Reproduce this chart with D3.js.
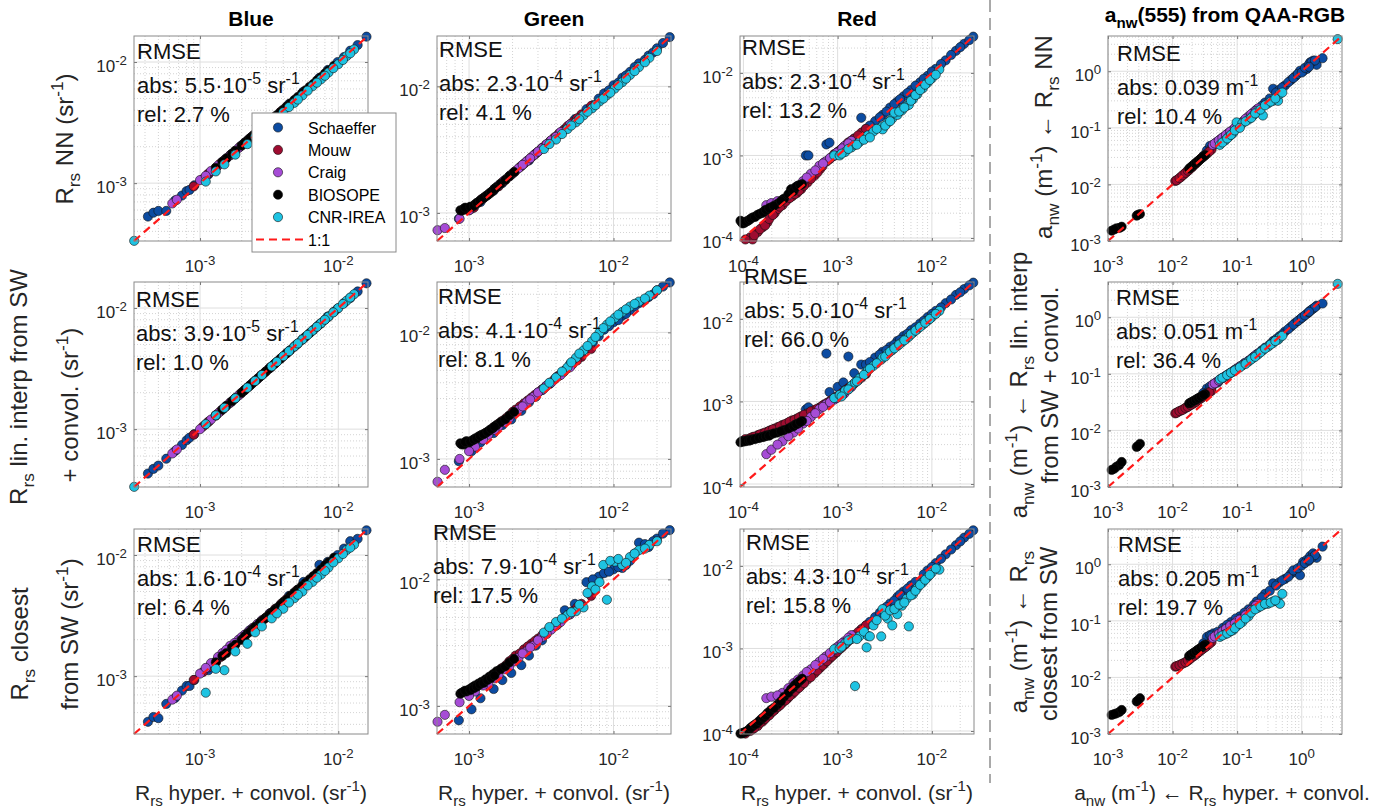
<!DOCTYPE html>
<html>
<head>
<meta charset="utf-8">
<script src="https://cdn.jsdelivr.net/npm/d3@7"></script>
<style>
  body { margin: 0; background: #fff; }
  svg text { white-space: pre; }
</style>
</head>
<body>
<div class="visualisation"></div>
<script>
//----------------------------------------------------------------------------------------------------------------------------
//DATA  (x = Rrs hyper + convol. ; NN / Lin / Close = the three methods, one value per x)
//----------------------------------------------------------------------------------------------------------------------------
var datasets = ["Schaeffer", "Mouw", "Craig", "BIOSOPE", "CNR-IREA"];
var dsColors = ["#0c4ca2", "#9e0c30", "#a64cd6", "#000000", "#1ec3e2"];

var colTitles = ["Blue", "Green", "Red", "a_{nw}(555) from QAA-RGB"];
var domains = [[3.33e-4, 1.64e-2], [6.0e-4, 2.5e-2], [9.2e-5, 2.8e-2], [1e-3, 4.2]];

// BLUE band
var blueX = {
  "Schaeffer": [4.2e-4, 4.6e-4, 5.0e-4, 5.7e-4, 6.6e-4, 7.4e-4, 8.0e-4, 8.4e-4, 9.1e-4, 1.15e-3, 1.3e-3, 1.7e-3, 2.3e-3, 3.2e-3, 4.4e-3, 5.6e-3, 7.3e-3, 8.4e-3, 9.9e-3, 1.1e-2, 1.22e-2, 1.38e-2, 1.6e-2],
  "Mouw":      [9.0e-4, 1.05e-3, 1.3e-3, 1.5e-3, 1.8e-3, 2.1e-3, 2.5e-3, 3.0e-3, 3.5e-3, 4.2e-3, 5.0e-3,
                1.15e-3, 1.4e-3, 1.65e-3, 1.95e-3, 2.3e-3, 2.75e-3, 3.25e-3, 3.85e-3],
  "Craig":     [6.3e-4, 6.8e-4, 1.0e-3, 1.2e-3, 1.45e-3, 1.65e-3, 1.9e-3, 2.1e-3, 2.4e-3, 2.8e-3, 3.2e-3,
                1.1e-3, 1.35e-3, 1.55e-3, 1.78e-3, 2.0e-3, 2.25e-3, 2.6e-3],
  "BIOSOPE":   [1.3e-3, 1.55e-3, 1.8e-3, 2.0e-3, 2.2e-3, 2.4e-3, 2.6e-3, 2.8e-3, 3.0e-3, 3.3e-3, 3.6e-3, 4.0e-3, 4.5e-3, 5.1e-3, 5.8e-3, 6.6e-3, 7.5e-3, 8.5e-3, 9.3e-3,
                1.45e-3, 1.7e-3, 2.1e-3, 2.3e-3, 2.5e-3, 2.7e-3, 2.9e-3, 3.15e-3, 3.45e-3, 3.8e-3, 4.25e-3, 4.8e-3, 5.45e-3, 6.2e-3, 7.0e-3, 8.0e-3],
  "CNR-IREA":  [3.34e-4, 1.1e-3, 1.5e-3, 2.2e-3, 2.8e-3, 3.3e-3, 4.0e-3, 4.8e-3, 5.5e-3, 6.5e-3, 7.5e-3, 8.5e-3, 1.0e-2, 1.15e-2, 1.3e-2,
                1.3e-3, 1.8e-3, 2.5e-3, 3.6e-3, 4.4e-3, 5.1e-3, 6.0e-3, 7.0e-3, 8.0e-3, 9.2e-3, 1.08e-2, 1.22e-2]
};
var blueNN = {
  "Schaeffer": [5.3e-4, 5.7e-4, 5.9e-4, 5.9e-4, 7.2e-4, 7.9e-4, 8.6e-4, 8.8e-4, 9.6e-4, 1.18e-3, 1.33e-3, 1.74e-3, 2.35e-3, 3.25e-3, 4.5e-3, 5.7e-3, 7.4e-3, 8.6e-3, 1.0e-2, 1.1e-2, 1.24e-2, 1.38e-2, 1.62e-2],
  "Mouw":      [9.4e-4, 1.08e-3, 1.34e-3, 1.55e-3, 1.85e-3, 2.15e-3, 2.55e-3, 3.05e-3, 3.55e-3, 4.25e-3, 5.0e-3,
                1.2e-3, 1.45e-3, 1.7e-3, 2.0e-3, 2.35e-3, 2.8e-3, 3.3e-3, 3.9e-3],
  "Craig":     [6.8e-4, 7.3e-4, 1.06e-3, 1.26e-3, 1.5e-3, 1.7e-3, 1.95e-3, 2.15e-3, 2.45e-3, 2.85e-3, 3.25e-3,
                1.15e-3, 1.4e-3, 1.6e-3, 1.82e-3, 2.05e-3, 2.3e-3, 2.65e-3],
  "BIOSOPE":   [1.34e-3, 1.6e-3, 1.85e-3, 2.05e-3, 2.25e-3, 2.45e-3, 2.65e-3, 2.85e-3, 3.05e-3, 3.35e-3, 3.65e-3, 4.05e-3, 4.55e-3, 5.15e-3, 5.85e-3, 6.6e-3, 7.5e-3, 8.5e-3, 9.3e-3,
                1.5e-3, 1.75e-3, 2.15e-3, 2.35e-3, 2.55e-3, 2.75e-3, 2.95e-3, 3.2e-3, 3.5e-3, 3.85e-3, 4.3e-3, 4.85e-3, 5.5e-3, 6.25e-3, 7.05e-3, 8.05e-3],
  "CNR-IREA":  [3.34e-4, 1.03e-3, 1.43e-3, 2.1e-3, 2.7e-3, 3.2e-3, 3.85e-3, 4.6e-3, 5.3e-3, 6.3e-3, 7.2e-3, 8.2e-3, 9.6e-3, 1.12e-2, 1.27e-2,
                1.25e-3, 1.72e-3, 2.42e-3, 3.5e-3, 4.25e-3, 4.9e-3, 5.8e-3, 6.75e-3, 7.7e-3, 8.9e-3, 1.04e-2, 1.18e-2]
};
var blueLin = {
  "Schaeffer": [4.3e-4, 4.7e-4, 5.0e-4, 5.7e-4, 6.6e-4, 7.4e-4, 8.1e-4, 8.5e-4, 9.1e-4, 1.15e-3, 1.3e-3, 1.7e-3, 2.3e-3, 3.2e-3, 4.4e-3, 5.6e-3, 7.3e-3, 8.5e-3, 9.9e-3, 1.1e-2, 1.21e-2, 1.37e-2, 1.6e-2],
  "Mouw":      [9.0e-4, 1.05e-3, 1.3e-3, 1.5e-3, 1.8e-3, 2.1e-3, 2.5e-3, 3.0e-3, 3.5e-3, 4.2e-3, 5.0e-3,
                1.15e-3, 1.4e-3, 1.65e-3, 1.95e-3, 2.3e-3, 2.75e-3, 3.25e-3, 3.85e-3],
  "Craig":     [6.3e-4, 6.8e-4, 1.0e-3, 1.2e-3, 1.45e-3, 1.65e-3, 1.9e-3, 2.1e-3, 2.4e-3, 2.8e-3, 3.2e-3,
                1.1e-3, 1.35e-3, 1.55e-3, 1.78e-3, 2.0e-3, 2.25e-3, 2.6e-3],
  "BIOSOPE":   [1.3e-3, 1.56e-3, 1.8e-3, 2.0e-3, 2.2e-3, 2.4e-3, 2.6e-3, 2.8e-3, 3.0e-3, 3.3e-3, 3.6e-3, 4.0e-3, 4.5e-3, 5.1e-3, 5.8e-3, 6.6e-3, 7.5e-3, 8.5e-3, 9.3e-3,
                1.45e-3, 1.7e-3, 2.1e-3, 2.3e-3, 2.5e-3, 2.7e-3, 2.9e-3, 3.15e-3, 3.45e-3, 3.8e-3, 4.25e-3, 4.8e-3, 5.45e-3, 6.2e-3, 7.0e-3, 8.0e-3],
  "CNR-IREA":  [3.34e-4, 1.1e-3, 1.5e-3, 2.2e-3, 2.8e-3, 3.3e-3, 4.0e-3, 4.8e-3, 5.5e-3, 6.5e-3, 7.5e-3, 8.5e-3, 1.0e-2, 1.15e-2, 1.3e-2,
                1.3e-3, 1.8e-3, 2.5e-3, 3.6e-3, 4.4e-3, 5.1e-3, 6.0e-3, 7.0e-3, 8.0e-3, 9.2e-3, 1.08e-2, 1.22e-2]
};
var blueClose = {
  "Schaeffer": [4.2e-4, 4.6e-4, 4.5e-4, 5.9e-4, 6.6e-4, 7.6e-4, 8.3e-4, 8.3e-4, 9.3e-4, 1.12e-3, 1.32e-3, 1.75e-3, 2.4e-3, 3.3e-3, 4.6e-3, 6.0e-3, 8.3e-3, 8.8e-3, 1.0e-2, 1.13e-2, 1.3e-2, 1.36e-2, 1.6e-2],
  "Mouw":      [9.3e-4, 1.08e-3, 1.3e-3, 1.55e-3, 1.85e-3, 2.15e-3, 2.55e-3, 3.05e-3, 3.6e-3, 4.3e-3, 5.1e-3,
                1.18e-3, 1.43e-3, 1.7e-3, 2.0e-3, 2.35e-3, 2.8e-3, 3.3e-3, 3.95e-3],
  "Craig":     [6.4e-4, 6.9e-4, 1.05e-3, 1.28e-3, 1.55e-3, 1.78e-3, 2.0e-3, 2.2e-3, 2.5e-3, 2.9e-3, 3.3e-3,
                1.17e-3, 1.44e-3, 1.65e-3, 1.88e-3, 2.1e-3, 2.35e-3, 2.7e-3],
  "BIOSOPE":   [1.3e-3, 1.55e-3, 1.82e-3, 2.0e-3, 2.25e-3, 2.45e-3, 2.6e-3, 2.85e-3, 3.05e-3, 3.35e-3, 3.65e-3, 4.1e-3, 4.6e-3, 5.2e-3, 5.9e-3, 6.7e-3, 7.6e-3, 8.7e-3, 9.5e-3,
                1.47e-3, 1.72e-3, 2.12e-3, 2.33e-3, 2.55e-3, 2.75e-3, 2.95e-3, 3.2e-3, 3.5e-3, 3.85e-3, 4.3e-3, 4.9e-3, 5.55e-3, 6.3e-3, 7.1e-3, 8.2e-3],
  "CNR-IREA":  [2.6e-4, 7.3e-4, 1.12e-3, 1.85e-3, 2.57e-3, 3.0e-3, 3.6e-3, 4.4e-3, 5.0e-3, 6.0e-3, 6.9e-3, 7.9e-3, 9.4e-3, 1.1e-2, 1.22e-2,
                1.15e-3, 1.6e-3, 2.3e-3, 3.3e-3, 4.05e-3, 4.7e-3, 5.6e-3, 6.5e-3, 7.4e-3, 8.7e-3, 1.02e-2, 1.15e-2]
};

// GREEN band
var greenX = {
  "Schaeffer": [8.5e-4, 1.04e-3, 1.48e-3, 1.96e-3, 2.3e-3, 2.9e-3, 3.6e-3, 4.6e-3, 5.4e-3, 6.5e-3, 7.9e-3, 8.6e-3, 1.0e-2, 1.15e-2, 1.3e-2, 1.5e-2, 1.75e-2, 2.0e-2, 2.45e-2,
                1.2e-3, 1.7e-3, 2.6e-3, 3.2e-3, 4.1e-3, 5.0e-3, 6.0e-3, 7.2e-3, 9.3e-3, 1.08e-2, 1.22e-2, 1.4e-2, 1.65e-2, 1.88e-2, 2.2e-2],
  "Mouw":      [1.0e-3, 1.15e-3, 1.3e-3, 1.5e-3, 1.7e-3, 1.9e-3, 2.1e-3, 2.4e-3, 2.7e-3, 3.0e-3, 3.4e-3, 3.9e-3, 4.5e-3, 5.2e-3, 6.0e-3, 7.0e-3,
                1.08e-3, 1.22e-3, 1.4e-3, 1.6e-3, 1.8e-3, 2.0e-3, 2.25e-3, 2.55e-3, 2.85e-3, 3.2e-3, 3.65e-3, 4.2e-3, 4.8e-3, 5.6e-3],
  "Craig":     [6.05e-4, 6.8e-4, 8.6e-4, 1.1e-3, 1.36e-3, 1.6e-3, 1.9e-3, 2.2e-3, 2.5e-3, 2.8e-3, 3.2e-3, 3.7e-3, 4.3e-3, 5.0e-3,
                1.0e-3, 1.25e-3, 1.5e-3, 1.75e-3, 2.05e-3, 2.35e-3, 2.65e-3, 3.0e-3, 3.45e-3, 4.0e-3],
  "BIOSOPE":   [8.7e-4, 9.2e-4, 9.6e-4, 1.0e-3, 1.05e-3, 1.1e-3, 1.16e-3, 1.22e-3, 1.3e-3, 1.38e-3, 1.46e-3, 1.55e-3, 1.65e-3, 1.78e-3, 1.9e-3, 2.05e-3,
                8.9e-4, 9.4e-4, 1.02e-3, 1.08e-3, 1.13e-3, 1.19e-3, 1.26e-3, 1.34e-3, 1.42e-3, 1.5e-3],
  "CNR-IREA":  [3.3e-3, 4.0e-3, 4.8e-3, 5.5e-3, 6.2e-3, 7.1e-3, 8.0e-3, 9.0e-3, 1.02e-2, 1.15e-2, 1.3e-2, 1.5e-2, 1.77e-2, 2.0e-2,
                3.6e-3, 4.4e-3, 5.1e-3, 5.8e-3, 6.6e-3, 7.5e-3, 8.5e-3, 9.5e-3, 1.08e-2, 1.22e-2, 1.4e-2, 1.65e-2]
};
var greenNN = {
  "Schaeffer": [9.0e-4, 1.08e-3, 1.5e-3, 2.0e-3, 2.35e-3, 2.95e-3, 3.6e-3, 4.6e-3, 5.5e-3, 6.6e-3, 8.0e-3, 8.8e-3, 1.02e-2, 1.17e-2, 1.3e-2, 1.52e-2, 1.75e-2, 2.0e-2, 2.45e-2,
                1.22e-3, 1.72e-3, 2.6e-3, 3.25e-3, 4.1e-3, 5.0e-3, 5.9e-3, 7.1e-3, 9.3e-3, 1.07e-2, 1.22e-2, 1.42e-2, 1.62e-2, 1.85e-2, 2.2e-2],
  "Mouw":      [1.05e-3, 1.2e-3, 1.35e-3, 1.55e-3, 1.75e-3, 1.95e-3, 2.15e-3, 2.45e-3, 2.75e-3, 3.05e-3, 3.45e-3, 3.95e-3, 4.5e-3, 5.2e-3, 6.0e-3, 7.0e-3,
                1.1e-3, 1.28e-3, 1.44e-3, 1.62e-3, 1.84e-3, 2.05e-3, 2.3e-3, 2.6e-3, 2.9e-3, 3.25e-3, 3.7e-3, 4.25e-3, 4.85e-3, 5.6e-3],
  "Craig":     [7.3e-4, 7.6e-4, 9.0e-4, 1.15e-3, 1.4e-3, 1.65e-3, 1.95e-3, 2.25e-3, 2.55e-3, 2.85e-3, 3.25e-3, 3.75e-3, 4.35e-3, 5.0e-3,
                1.05e-3, 1.3e-3, 1.55e-3, 1.8e-3, 2.1e-3, 2.4e-3, 2.7e-3, 3.05e-3, 3.5e-3, 4.0e-3],
  "BIOSOPE":   [1.05e-3, 1.08e-3, 1.06e-3, 1.1e-3, 1.12e-3, 1.17e-3, 1.22e-3, 1.28e-3, 1.35e-3, 1.42e-3, 1.5e-3, 1.6e-3, 1.7e-3, 1.82e-3, 1.95e-3, 2.1e-3,
                1.04e-3, 1.1e-3, 1.12e-3, 1.14e-3, 1.2e-3, 1.25e-3, 1.31e-3, 1.38e-3, 1.46e-3, 1.55e-3],
  "CNR-IREA":  [3.2e-3, 3.8e-3, 4.6e-3, 5.2e-3, 5.9e-3, 6.7e-3, 7.6e-3, 8.5e-3, 9.6e-3, 1.08e-2, 1.23e-2, 1.42e-2, 1.68e-2, 1.9e-2,
                3.5e-3, 4.2e-3, 4.9e-3, 5.5e-3, 6.3e-3, 7.1e-3, 8.0e-3, 8.9e-3, 1.02e-2, 1.15e-2, 1.32e-2, 1.55e-2]
};
var greenLin = {
  "Schaeffer": [9.6e-4, 1.15e-3, 1.6e-3, 2.05e-3, 2.4e-3, 3.1e-3, 3.9e-3, 5.0e-3, 6.0e-3, 7.4e-3, 9.3e-3, 1.05e-2, 1.2e-2, 1.35e-2, 1.5e-2, 1.7e-2, 1.9e-2, 2.15e-2, 2.48e-2,
                1.35e-3, 1.85e-3, 2.8e-3, 3.5e-3, 4.5e-3, 5.6e-3, 6.8e-3, 8.3e-3, 1.12e-2, 1.25e-2, 1.4e-2, 1.6e-2, 1.8e-2, 2.0e-2, 2.3e-2],
  "Mouw":      [1.35e-3, 1.45e-3, 1.6e-3, 1.8e-3, 2.0e-3, 2.2e-3, 2.45e-3, 2.75e-3, 3.05e-3, 3.35e-3, 3.75e-3, 4.25e-3, 4.85e-3, 5.6e-3, 6.4e-3, 7.4e-3,
                1.4e-3, 1.5e-3, 1.68e-3, 1.9e-3, 2.1e-3, 2.35e-3, 2.6e-3, 2.9e-3, 3.2e-3, 3.55e-3, 4.0e-3, 4.55e-3, 5.2e-3, 6.0e-3],
  "Craig":     [6.6e-4, 8.2e-4, 1.0e-3, 1.25e-3, 1.55e-3, 1.8e-3, 2.1e-3, 2.45e-3, 2.8e-3, 3.1e-3, 3.5e-3, 4.0e-3, 4.6e-3, 5.3e-3,
                1.15e-3, 1.42e-3, 1.7e-3, 1.95e-3, 2.3e-3, 2.6e-3, 2.95e-3, 3.35e-3, 3.8e-3, 4.35e-3],
  "BIOSOPE":   [1.33e-3, 1.3e-3, 1.38e-3, 1.35e-3, 1.4e-3, 1.45e-3, 1.5e-3, 1.55e-3, 1.6e-3, 1.68e-3, 1.75e-3, 1.85e-3, 1.95e-3, 2.05e-3, 2.2e-3, 2.35e-3,
                1.3e-3, 1.36e-3, 1.37e-3, 1.42e-3, 1.46e-3, 1.52e-3, 1.57e-3, 1.64e-3, 1.72e-3, 1.8e-3],
  "CNR-IREA":  [3.6e-3, 4.4e-3, 5.3e-3, 6.3e-3, 7.2e-3, 8.5e-3, 1.0e-2, 1.15e-2, 1.3e-2, 1.45e-2, 1.6e-2, 1.75e-2, 1.95e-2, 2.15e-2,
                4.0e-3, 4.9e-3, 5.8e-3, 6.8e-3, 7.8e-3, 9.2e-3, 1.08e-2, 1.22e-2, 1.38e-2, 1.52e-2, 1.68e-2, 1.85e-2]
};
var greenClose = {
  "Schaeffer": [7.7e-4, 9.4e-4, 1.36e-3, 1.82e-3, 2.1e-3, 3.0e-3, 4.1e-3, 5.7e-3, 6.4e-3, 9.5e-3, 1.05e-2, 1.12e-2, 1.2e-2, 1.23e-2, 1.4e-2, 1.95e-2, 1.8e-2, 2.1e-2, 2.45e-2,
                1.15e-3, 1.6e-3, 2.5e-3, 3.3e-3, 4.4e-3, 5.3e-3, 6.2e-3, 1.0e-2, 1.15e-2, 1.25e-2, 1.3e-2, 1.6e-2, 1.9e-2, 2.0e-2, 2.3e-2],
  "Mouw":      [1.3e-3, 1.45e-3, 1.6e-3, 1.8e-3, 2.0e-3, 2.25e-3, 2.5e-3, 2.8e-3, 3.1e-3, 3.4e-3, 3.8e-3, 4.3e-3, 4.9e-3, 5.6e-3, 6.4e-3, 7.4e-3,
                1.35e-3, 1.5e-3, 1.7e-3, 1.9e-3, 2.1e-3, 2.35e-3, 2.6e-3, 2.95e-3, 3.25e-3, 3.6e-3, 4.05e-3, 4.6e-3, 5.2e-3, 6.0e-3],
  "Craig":     [7.5e-4, 8.5e-4, 1.07e-3, 1.3e-3, 1.46e-3, 1.75e-3, 2.05e-3, 2.4e-3, 2.7e-3, 3.0e-3, 3.5e-3, 4.0e-3, 4.6e-3, 5.3e-3,
                1.2e-3, 1.45e-3, 1.65e-3, 1.95e-3, 2.25e-3, 2.6e-3, 2.9e-3, 3.3e-3, 3.7e-3, 4.3e-3],
  "BIOSOPE":   [1.25e-3, 1.3e-3, 1.3e-3, 1.35e-3, 1.4e-3, 1.45e-3, 1.5e-3, 1.55e-3, 1.62e-3, 1.7e-3, 1.78e-3, 1.88e-3, 1.95e-3, 2.05e-3, 2.2e-3, 2.35e-3,
                1.27e-3, 1.32e-3, 1.33e-3, 1.38e-3, 1.42e-3, 1.48e-3, 1.52e-3, 1.6e-3, 1.66e-3, 1.74e-3],
  "CNR-IREA":  [3.8e-3, 4.6e-3, 5.2e-3, 5.6e-3, 6.0e-3, 8.8e-3, 9.5e-3, 6.9e-3, 1.38e-2, 1.3e-2, 1.5e-2, 1.7e-2, 1.87e-2, 2.0e-2,
                4.2e-3, 4.9e-3, 5.5e-3, 6.3e-3, 7.8e-3, 8.3e-3, 1.3e-2, 1.4e-2, 1.45e-2, 1.35e-2, 1.6e-2, 1.75e-2]
};

// RED band
var redX = {
  "Schaeffer": [4.6e-4, 4.9e-4, 7.6e-4, 8.2e-4, 1.0e-3, 1.3e-3, 1.5e-3, 1.78e-3, 2.0e-3, 2.5e-3, 3.0e-3, 3.6e-3, 4.3e-3, 5.0e-3, 6.0e-3, 7.5e-3, 9.0e-3, 1.1e-2, 1.4e-2, 1.8e-2, 2.2e-2, 2.75e-2,
                1.15e-3, 2.2e-3, 2.8e-3, 3.3e-3, 4.0e-3, 4.6e-3, 5.5e-3, 6.7e-3, 8.2e-3, 1.0e-2, 1.25e-2, 1.6e-2, 2.0e-2, 2.5e-2],
  "Mouw":      [1.18e-4, 1.25e-4, 1.42e-4, 1.6e-4, 1.8e-4, 1.96e-4, 2.15e-4, 2.32e-4, 2.6e-4, 2.96e-4, 3.3e-4, 3.7e-4, 4.1e-4, 4.8e-4, 5.7e-4, 6.5e-4, 7.2e-4, 8.2e-4, 9.2e-4, 1.05e-3, 1.15e-3, 1.29e-3, 1.5e-3, 1.8e-3,
                1.05e-4, 1.3e-4, 1.5e-4, 1.7e-4, 1.88e-4, 2.05e-4, 2.45e-4, 2.8e-4, 3.1e-4, 3.5e-4, 3.9e-4, 4.4e-4, 5.2e-4, 6.1e-4, 6.9e-4, 7.7e-4, 8.7e-4, 9.8e-4, 1.1e-3, 1.22e-3, 1.38e-3, 1.65e-3, 2.0e-3],
  "Craig":     [1.75e-4, 1.98e-4, 2.6e-4, 3.4e-4, 4.3e-4, 5.2e-4, 6.4e-4, 7.5e-4, 9.2e-4, 1.05e-3, 1.18e-3, 1.4e-3,
                2.3e-4, 3.0e-4, 3.8e-4, 4.7e-4, 5.8e-4, 7.0e-4, 8.3e-4, 9.8e-4, 1.12e-3, 1.3e-3],
  "BIOSOPE":   [9.3e-5, 9.6e-5, 1.02e-4, 1.1e-4, 1.26e-4, 1.4e-4, 1.55e-4, 1.67e-4, 1.8e-4, 1.96e-4, 2.3e-4, 2.7e-4, 3.2e-4, 3.5e-4, 3.8e-4, 4.2e-4,
                9.8e-5, 1.06e-4, 1.15e-4, 1.2e-4, 1.33e-4, 1.47e-4, 1.62e-4, 1.73e-4, 1.88e-4, 2.1e-4, 2.5e-4, 3.0e-4, 3.4e-4, 3.65e-4, 4.0e-4],
  "CNR-IREA":  [9.2e-4, 1.05e-3, 1.2e-3, 1.4e-3, 1.53e-3, 1.7e-3, 2.03e-3, 2.1e-3, 2.4e-3, 2.9e-3, 3.0e-3, 3.4e-3, 3.8e-3, 4.3e-3, 4.8e-3, 5.4e-3, 5.7e-3, 6.3e-3, 7.0e-3, 8.0e-3, 9.0e-3, 1.0e-2, 1.2e-2,
                1.1e-3, 1.3e-3, 1.6e-3, 1.9e-3, 2.2e-3, 2.6e-3, 3.2e-3, 3.6e-3, 4.0e-3, 4.5e-3, 5.1e-3, 6.0e-3, 6.7e-3, 7.5e-3, 8.5e-3, 9.5e-3, 1.1e-2]
};
var redNN = {
  "Schaeffer": [1.0e-3, 1.0e-3, 1.36e-3, 1.43e-3, 1.1e-3, 1.4e-3, 1.6e-3, 2.86e-3, 2.1e-3, 2.6e-3, 3.1e-3, 3.8e-3, 4.5e-3, 5.2e-3, 6.2e-3, 7.7e-3, 9.2e-3, 1.12e-2, 1.42e-2, 1.85e-2, 2.25e-2, 2.75e-2,
                1.2e-3, 2.3e-3, 2.9e-3, 3.4e-3, 4.2e-3, 4.8e-3, 5.7e-3, 7.0e-3, 8.5e-3, 1.04e-2, 1.28e-2, 1.65e-2, 2.05e-2, 2.5e-2],
  "Mouw":      [1.02e-4, 9.6e-5, 1.18e-4, 1.35e-4, 1.55e-4, 1.86e-4, 2.0e-4, 2.24e-4, 2.5e-4, 2.96e-4, 3.2e-4, 3.5e-4, 3.9e-4, 4.7e-4, 5.7e-4, 6.8e-4, 8.2e-4, 9.0e-4, 1.04e-3, 1.15e-3, 1.25e-3, 1.43e-3, 1.6e-3, 1.9e-3,
                9.6e-5, 1.08e-4, 1.28e-4, 1.42e-4, 1.7e-4, 1.9e-4, 2.4e-4, 2.75e-4, 3.05e-4, 3.4e-4, 3.75e-4, 4.3e-4, 5.2e-4, 6.2e-4, 7.4e-4, 8.5e-4, 9.6e-4, 1.08e-3, 1.2e-3, 1.33e-3, 1.5e-3, 1.75e-3, 2.1e-3],
  "Craig":     [2.5e-4, 2.65e-4, 2.9e-4, 3.7e-4, 4.9e-4, 6.0e-4, 7.5e-4, 8.5e-4, 9.9e-4, 1.12e-3, 1.3e-3, 1.5e-3,
                2.8e-4, 3.3e-4, 4.3e-4, 5.4e-4, 6.6e-4, 8.0e-4, 9.3e-4, 1.08e-3, 1.22e-3, 1.4e-3],
  "BIOSOPE":   [1.62e-4, 1.55e-4, 1.52e-4, 1.6e-4, 1.78e-4, 1.9e-4, 2.0e-4, 2.14e-4, 2.2e-4, 2.35e-4, 2.6e-4, 3.0e-4, 3.9e-4, 4.0e-4, 4.3e-4, 4.5e-4,
                1.5e-4, 1.58e-4, 1.65e-4, 1.72e-4, 1.8e-4, 1.95e-4, 2.05e-4, 2.2e-4, 2.3e-4, 2.45e-4, 2.8e-4, 3.4e-4, 3.7e-4, 4.2e-4, 4.4e-4],
  "CNR-IREA":  [1.0e-3, 1.0e-3, 1.1e-3, 1.25e-3, 1.35e-3, 1.45e-3, 1.7e-3, 1.75e-3, 1.95e-3, 2.2e-3, 2.07e-3, 2.5e-3, 2.8e-3, 3.1e-3, 3.5e-3, 4.0e-3, 4.1e-3, 4.8e-3, 5.5e-3, 6.5e-3, 7.6e-3, 8.6e-3, 1.1e-2,
                1.05e-3, 1.2e-3, 1.35e-3, 1.55e-3, 1.65e-3, 2.1e-3, 2.3e-3, 2.6e-3, 3.3e-3, 3.4e-3, 3.8e-3, 4.6e-3, 5.4e-3, 6.2e-3, 7.2e-3, 8.2e-3, 9.5e-3]
};
var redLin = {
  "Schaeffer": [8.0e-4, 8.5e-4, 3.8e-3, 1.3e-3, 1.5e-3, 3.5e-3, 2.2e-3, 2.8e-3, 2.8e-3, 3.4e-3, 4.0e-3, 4.6e-3, 5.4e-3, 6.2e-3, 7.3e-3, 8.8e-3, 1.05e-2, 1.25e-2, 1.55e-2, 1.95e-2, 2.3e-2, 2.75e-2,
                1.7e-3, 3.0e-3, 3.7e-3, 4.2e-3, 4.9e-3, 5.6e-3, 6.6e-3, 7.9e-3, 9.5e-3, 1.15e-2, 1.38e-2, 1.72e-2, 2.1e-2, 2.55e-2],
  "Mouw":      [3.6e-4, 3.7e-4, 3.9e-4, 4.1e-4, 4.3e-4, 4.5e-4, 4.7e-4, 4.9e-4, 5.2e-4, 5.5e-4, 5.9e-4, 6.2e-4, 6.6e-4, 7.2e-4, 7.9e-4, 8.5e-4, 9.2e-4, 1.0e-3, 1.1e-3, 1.2e-3, 1.3e-3, 1.45e-3, 1.65e-3, 1.95e-3,
                3.5e-4, 3.75e-4, 4.0e-4, 4.2e-4, 4.4e-4, 4.6e-4, 5.0e-4, 5.35e-4, 5.7e-4, 6.0e-4, 6.4e-4, 6.9e-4, 7.6e-4, 8.2e-4, 8.9e-4, 9.6e-4, 1.05e-3, 1.15e-3, 1.25e-3, 1.38e-3, 1.52e-3, 1.8e-3, 2.15e-3],
  "Craig":     [2.3e-4, 2.6e-4, 3.3e-4, 4.2e-4, 5.4e-4, 6.5e-4, 8.1e-4, 9.2e-4, 1.05e-3, 1.15e-3, 1.25e-3, 1.5e-3,
                3.0e-4, 3.8e-4, 4.7e-4, 5.8e-4, 7.2e-4, 8.6e-4, 9.8e-4, 1.1e-3, 1.2e-3, 1.4e-3],
  "BIOSOPE":   [3.2e-4, 3.3e-4, 3.3e-4, 3.4e-4, 3.5e-4, 3.6e-4, 3.7e-4, 3.8e-4, 3.9e-4, 4.0e-4, 4.2e-4, 4.5e-4, 4.9e-4, 5.2e-4, 5.4e-4, 5.8e-4,
                3.25e-4, 3.3e-4, 3.35e-4, 3.4e-4, 3.5e-4, 3.6e-4, 3.7e-4, 3.8e-4, 3.85e-4, 4.1e-4, 4.35e-4, 4.7e-4, 5.0e-4, 5.3e-4, 5.6e-4],
  "CNR-IREA":  [1.1e-3, 1.2e-3, 1.35e-3, 1.55e-3, 1.7e-3, 1.9e-3, 2.3e-3, 2.4e-3, 2.7e-3, 3.2e-3, 3.4e-3, 3.8e-3, 4.2e-3, 4.7e-3, 5.2e-3, 5.8e-3, 6.1e-3, 6.8e-3, 7.5e-3, 8.5e-3, 9.5e-3, 1.05e-2, 1.25e-2,
                1.15e-3, 1.4e-3, 1.75e-3, 2.1e-3, 2.5e-3, 2.9e-3, 3.5e-3, 4.0e-3, 4.4e-3, 4.9e-3, 5.5e-3, 6.5e-3, 7.2e-3, 8.0e-3, 9.0e-3, 1.0e-2, 1.15e-2]
};
var redClose = {
  "Schaeffer": [4.4e-4, 4.8e-4, 7.0e-4, 7.8e-4, 9.5e-4, 1.25e-3, 1.45e-3, 1.7e-3, 1.9e-3, 2.4e-3, 2.9e-3, 3.5e-3, 4.2e-3, 4.9e-3, 5.8e-3, 6.3e-3, 8.8e-3, 1.08e-2, 1.38e-2, 1.78e-2, 2.2e-2, 2.7e-2,
                1.1e-3, 2.1e-3, 2.7e-3, 3.2e-3, 3.8e-3, 4.5e-3, 5.3e-3, 6.4e-3, 7.9e-3, 9.7e-3, 1.22e-2, 1.58e-2, 1.98e-2, 2.45e-2],
  "Mouw":      [1.0e-4, 1.05e-4, 1.15e-4, 1.3e-4, 1.5e-4, 1.65e-4, 1.8e-4, 1.95e-4, 2.2e-4, 2.5e-4, 2.8e-4, 3.2e-4, 3.55e-4, 4.2e-4, 5.0e-4, 5.8e-4, 6.5e-4, 7.5e-4, 8.5e-4, 9.8e-4, 1.08e-3, 1.22e-3, 1.42e-3, 1.72e-3,
                9.3e-5, 1.08e-4, 1.25e-4, 1.4e-4, 1.55e-4, 1.72e-4, 2.05e-4, 2.35e-4, 2.65e-4, 3.0e-4, 3.35e-4, 3.8e-4, 4.5e-4, 5.4e-4, 6.2e-4, 7.0e-4, 8.0e-4, 9.0e-4, 1.02e-3, 1.14e-3, 1.3e-3, 1.58e-3, 1.9e-3],
  "Craig":     [2.5e-4, 2.6e-4, 2.9e-4, 3.8e-4, 4.7e-4, 5.6e-4, 6.9e-4, 8.0e-4, 9.6e-4, 1.1e-3, 1.22e-3, 1.45e-3,
                2.7e-4, 3.3e-4, 4.2e-4, 5.2e-4, 6.3e-4, 7.5e-4, 8.8e-4, 1.03e-3, 1.16e-3, 1.35e-3],
  "BIOSOPE":   [9.3e-5, 9.4e-5, 9.6e-5, 1.0e-4, 1.15e-4, 1.25e-4, 1.4e-4, 1.5e-4, 1.65e-4, 1.8e-4, 2.1e-4, 2.6e-4, 3.2e-4, 3.6e-4, 3.9e-4, 4.3e-4,
                9.4e-5, 9.8e-5, 1.05e-4, 1.1e-4, 1.2e-4, 1.32e-4, 1.45e-4, 1.55e-4, 1.7e-4, 1.9e-4, 2.3e-4, 2.9e-4, 3.4e-4, 3.7e-4, 4.1e-4],
  "CNR-IREA":  [9.8e-4, 1.0e-3, 1.15e-3, 1.3e-3, 3.5e-4, 1.4e-3, 1.03e-3, 1.42e-3, 1.9e-3, 1.4e-3, 3.0e-3, 2.3e-3, 1.9e-3, 2.6e-3, 3.3e-3, 4.0e-3, 1.85e-3, 4.5e-3, 5.4e-3, 6.3e-3, 7.3e-3, 8.3e-3, 9.0e-3,
                1.05e-3, 1.25e-3, 1.3e-3, 1.6e-3, 1.4e-3, 2.2e-3, 2.5e-3, 2.9e-3, 3.0e-3, 3.4e-3, 3.6e-3, 4.4e-3, 5.0e-3, 5.9e-3, 6.8e-3, 7.8e-3, 9.3e-3]
};

// a_nw(555) from QAA-RGB
var qaaX = {
  "Schaeffer": [3.4e-2, 3.8e-2, 4.3e-2, 6.0e-2, 8.0e-2, 0.11, 0.15, 0.2, 0.27, 0.36, 0.45, 0.55, 0.68, 0.8, 0.94, 1.05, 1.2, 1.35, 1.5, 1.7, 2.1,
                3.0e-2, 4.0e-2, 5.0e-2, 7.0e-2, 9.5e-2, 0.13, 0.18, 0.24, 0.32, 0.4, 0.5, 0.62, 0.74, 0.87, 1.0, 1.12, 1.28, 1.42, 1.6, 1.3],
  "Mouw":      [1.1e-2, 1.2e-2, 1.35e-2, 1.5e-2, 1.65e-2, 1.8e-2, 2.0e-2, 2.2e-2, 2.4e-2, 2.7e-2, 3.0e-2, 3.4e-2, 4.0e-2,
                1.15e-2, 1.28e-2, 1.42e-2, 1.58e-2, 1.72e-2, 1.9e-2, 2.1e-2, 2.3e-2, 2.55e-2, 2.85e-2, 3.2e-2, 3.7e-2],
  "Craig":     [4.2e-2, 4.8e-2, 5.5e-2, 6.3e-2, 7.2e-2, 8.6e-2, 0.1, 0.123, 0.15, 0.18, 0.21,
                4.5e-2, 5.2e-2, 5.9e-2, 6.7e-2, 7.8e-2, 9.2e-2, 0.11, 0.135, 0.165, 0.195],
  "BIOSOPE":   [1.14e-3, 1.36e-3, 1.5e-3, 1.63e-3, 2.78e-3, 3.13e-3, 1.8e-2, 2.0e-2, 2.2e-2, 2.4e-2, 2.6e-2, 2.9e-2, 3.2e-2,
                1.25e-3, 2.9e-3, 1.9e-2, 2.1e-2, 2.3e-2, 2.5e-2, 2.75e-2, 3.05e-2],
  "CNR-IREA":  [5.4e-2, 6.5e-2, 7.5e-2, 8.6e-2, 9.8e-2, 0.12, 0.15, 0.176, 0.21, 0.25, 0.3, 0.36, 0.43, 0.46, 3.6,
                5.9e-2, 7.0e-2, 8.0e-2, 9.2e-2, 0.11, 0.135, 0.165, 0.19, 0.23, 0.27, 0.33, 0.39, 0.5]
};
var qaaNN = {
  "Schaeffer": [4.0e-2, 4.8e-2, 5.0e-2, 6.5e-2, 8.6e-2, 0.115, 0.155, 0.21, 0.28, 0.49, 0.47, 0.56, 0.7, 0.82, 1.02, 1.0, 1.1, 1.44, 1.54, 1.3, 1.7,
                3.2e-2, 4.4e-2, 5.5e-2, 7.5e-2, 0.1, 0.135, 0.185, 0.245, 0.33, 0.42, 0.52, 0.64, 0.76, 0.9, 0.95, 1.15, 1.3, 1.45, 1.55, 1.2],
  "Mouw":      [1.15e-2, 1.22e-2, 1.35e-2, 1.5e-2, 1.65e-2, 1.8e-2, 2.0e-2, 2.25e-2, 2.5e-2, 2.8e-2, 3.1e-2, 3.5e-2, 4.1e-2,
                1.18e-2, 1.3e-2, 1.45e-2, 1.6e-2, 1.75e-2, 1.95e-2, 2.15e-2, 2.35e-2, 2.65e-2, 2.95e-2, 3.3e-2, 3.8e-2],
  "Craig":     [5.0e-2, 5.6e-2, 6.3e-2, 7.0e-2, 8.0e-2, 9.2e-2, 0.11, 0.13, 0.16, 0.19, 0.22,
                5.3e-2, 6.0e-2, 6.7e-2, 7.5e-2, 8.6e-2, 0.1, 0.12, 0.145, 0.175, 0.2],
  "BIOSOPE":   [1.52e-3, 1.68e-3, 1.7e-3, 1.79e-3, 2.8e-3, 3.0e-3, 1.9e-2, 2.1e-2, 2.3e-2, 2.5e-2, 2.7e-2, 3.0e-2, 3.3e-2,
                1.6e-3, 2.9e-3, 2.0e-2, 2.2e-2, 2.4e-2, 2.6e-2, 2.85e-2, 3.15e-2],
  "CNR-IREA":  [5.0e-2, 6.0e-2, 7.0e-2, 8.0e-2, 0.125, 0.12, 0.14, 0.164, 0.2, 0.165, 0.27, 0.3, 0.3, 0.4, 3.7,
                5.5e-2, 6.5e-2, 7.5e-2, 9.0e-2, 0.1, 0.13, 0.15, 0.18, 0.21, 0.25, 0.29, 0.33, 0.42]
};
var qaaLin = {
  "Schaeffer": [5.5e-2, 6.0e-2, 6.5e-2, 8.5e-2, 0.105, 0.135, 0.17, 0.22, 0.29, 0.38, 0.46, 0.56, 0.68, 0.8, 0.92, 1.02, 1.15, 1.3, 1.42, 1.6, 1.75,
                4.6e-2, 5.8e-2, 7.0e-2, 9.2e-2, 0.12, 0.155, 0.2, 0.26, 0.33, 0.41, 0.5, 0.62, 0.74, 0.86, 0.98, 1.08, 1.22, 1.36, 1.5, 1.25],
  "Mouw":      [2.0e-2, 2.1e-2, 2.25e-2, 2.4e-2, 2.55e-2, 2.7e-2, 2.9e-2, 3.1e-2, 3.35e-2, 3.65e-2, 4.0e-2, 4.4e-2, 5.0e-2,
                2.05e-2, 2.2e-2, 2.3e-2, 2.5e-2, 2.6e-2, 2.8e-2, 3.0e-2, 3.2e-2, 3.5e-2, 3.8e-2, 4.2e-2, 4.7e-2],
  "Craig":     [6.5e-2, 7.2e-2, 8.0e-2, 8.8e-2, 9.8e-2, 0.11, 0.125, 0.145, 0.17, 0.2, 0.23,
                6.8e-2, 7.6e-2, 8.4e-2, 9.3e-2, 0.104, 0.118, 0.135, 0.155, 0.185, 0.215],
  "BIOSOPE":   [2.0e-3, 2.3e-3, 2.45e-3, 2.77e-3, 5.1e-3, 5.8e-3, 3.0e-2, 3.2e-2, 3.4e-2, 3.6e-2, 3.8e-2, 4.1e-2, 4.4e-2,
                2.1e-3, 5.3e-3, 3.1e-2, 3.3e-2, 3.5e-2, 3.7e-2, 3.95e-2, 4.25e-2],
  "CNR-IREA":  [8.0e-2, 9.0e-2, 0.1, 0.11, 0.12, 0.14, 0.165, 0.19, 0.22, 0.26, 0.3, 0.35, 0.4, 0.44, 3.9,
                8.5e-2, 9.5e-2, 0.105, 0.115, 0.13, 0.15, 0.18, 0.2, 0.24, 0.28, 0.33, 0.38, 0.47]
};
var qaaClose = {
  "Schaeffer": [5.2e-2, 5.6e-2, 6.0e-2, 7.5e-2, 9.5e-2, 0.12, 0.16, 0.22, 0.3, 0.46, 0.48, 0.55, 0.68, 0.74, 0.64, 1.1, 1.2, 1.4, 1.56, 1.3, 2.05,
                4.0e-2, 5.5e-2, 6.4e-2, 8.5e-2, 0.11, 0.14, 0.19, 0.26, 0.34, 0.42, 0.52, 0.6, 0.78, 0.85, 0.95, 1.05, 1.15, 1.3, 1.45, 1.2],
  "Mouw":      [1.55e-2, 1.6e-2, 1.7e-2, 1.8e-2, 1.9e-2, 2.05e-2, 2.3e-2, 2.45e-2, 2.65e-2, 2.95e-2, 3.25e-2, 3.6e-2, 4.2e-2,
                1.58e-2, 1.65e-2, 1.75e-2, 1.85e-2, 2.0e-2, 2.15e-2, 2.35e-2, 2.55e-2, 2.8e-2, 3.1e-2, 3.4e-2, 3.9e-2],
  "Craig":     [5.0e-2, 5.6e-2, 6.2e-2, 6.9e-2, 7.6e-2, 7.9e-2, 0.1, 0.104, 0.14, 0.17, 0.2,
                5.3e-2, 5.9e-2, 6.5e-2, 7.2e-2, 8.2e-2, 9.0e-2, 0.105, 0.125, 0.155, 0.185],
  "BIOSOPE":   [2.17e-3, 2.32e-3, 2.45e-3, 2.66e-3, 3.74e-3, 4.3e-3, 2.4e-2, 2.6e-2, 2.8e-2, 3.0e-2, 3.2e-2, 3.5e-2, 3.8e-2,
                2.25e-3, 3.9e-3, 2.5e-2, 2.7e-2, 2.9e-2, 3.1e-2, 3.35e-2, 3.65e-2],
  "CNR-IREA":  [5.2e-2, 5.8e-2, 6.3e-2, 6.8e-2, 8.0e-2, 9.5e-2, 0.12, 0.156, 0.17, 0.19, 0.2, 0.22, 0.218, 0.2, 5.0,
                5.5e-2, 6.0e-2, 6.6e-2, 7.4e-2, 8.8e-2, 0.11, 0.14, 0.16, 0.18, 0.2, 0.21, 0.23, 0.3]
};

var xData = [blueX, greenX, redX, qaaX];
var yData = [[blueNN, greenNN, redNN, qaaNN],
             [blueLin, greenLin, redLin, qaaLin],
             [blueClose, greenClose, redClose, qaaClose]];

// RMSE annotations
var rmseAbs = [["5.5·10^{-5} sr^{-1}", "2.3·10^{-4} sr^{-1}", "2.3·10^{-4} sr^{-1}", "0.039 m^{-1}"],
               ["3.9·10^{-5} sr^{-1}", "4.1·10^{-4} sr^{-1}", "5.0·10^{-4} sr^{-1}", "0.051 m^{-1}"],
               ["1.6·10^{-4} sr^{-1}", "7.9·10^{-4} sr^{-1}", "4.3·10^{-4} sr^{-1}", "0.205 m^{-1}"]];
var rmseRel = [["2.7", "4.1", "13.2", "10.4"],
               ["1.0", "8.1", "66.0", "36.4"],
               ["6.4", "17.5", "15.8", "19.7"]];

var rowLabelsLeft = [["R_{rs} NN (sr^{-1})"],
                     ["R_{rs} lin. interp from SW", "+ convol. (sr^{-1})"],
                     ["R_{rs} closest", "from SW (sr^{-1})"]];
var rowLabelsRight = [["a_{nw} (m^{-1}) ← R_{rs} NN"],
                      ["a_{nw} (m^{-1}) ← R_{rs} lin. interp", "from SW + convol."],
                      ["a_{nw} (m^{-1}) ← R_{rs}", "closest from SW"]];
var xLabels = ["R_{rs} hyper. + convol. (sr^{-1})", "R_{rs} hyper. + convol. (sr^{-1})",
               "R_{rs} hyper. + convol. (sr^{-1})", "a_{nw} (m^{-1}) ← R_{rs} hyper. + convol."];

//----------------------------------------------------------------------------------------------------------------------------
//LAYOUT
//----------------------------------------------------------------------------------------------------------------------------
var colLeft = [134, 437, 740, 1108], rowTop = [36, 282, 529], W = 234, H = 205;
// RMSE block anchor (first baseline) relative to each axes box
var annoPos = [[[3, 23], [2, 21], [2, 19], [9, 25]],
               [[2, 25], [1, 22], [4, 2], [8, 23]],
               [[3, 23], [-4, 11], [6, 21], [10, 23]]];
var FONT = '"Liberation Sans", Arial, Helvetica, sans-serif';
var TXT = "#262626";

var svg = d3.select(".visualisation").append("svg")
    .attr("width", 1391).attr("height", 809)
    .style("font-family", FONT);
svg.append("rect").attr("width", 1391).attr("height", 809).attr("fill", "#fff");

// tex-ish text: a_{nw}, sr^{-1}
function rich(t, str, size, ratio){
	ratio = ratio || 0.72;
	var re = /([_^])\{([^}]*)\}/g, last = 0, m, parts = [];
	while((m = re.exec(str))){
		if(m.index > last) parts.push([str.slice(last, m.index), ""]);
		parts.push([m[2], m[1] === "^" ? "sup" : "sub"]);
		last = re.lastIndex;
	}
	if(last < str.length) parts.push([str.slice(last), ""]);
	var off = 0;
	parts.forEach(function(p){
		var shift = p[1] === "sup" ? -0.42 * size : (p[1] === "sub" ? 0.3 * size : 0);
		t.append("tspan").attr("dy", (shift - off).toFixed(2))
			.style("font-size", (p[1] ? size * ratio : size) + "px").text(p[0]);
		off = shift;
	});
	return t;
}

function decadesIn(dom){
	var lo = Math.ceil(Math.log10(dom[0]) - 1e-9), hi = Math.floor(Math.log10(dom[1]) + 1e-9);
	return d3.range(lo, hi + 1).map(function(e){ return Math.pow(10, e); });
}
function isDecade(v){ var l = Math.log10(v); return Math.abs(l - Math.round(l)) < 1e-9; }

//----------------------------------------------------------------------------------------------------------------------------
//PANELS
//----------------------------------------------------------------------------------------------------------------------------
function drawPanel(r, c){
	var dom = domains[c];
	var g = svg.append("g").attr("transform", "translate(" + colLeft[c] + "," + rowTop[r] + ")");
	var x = d3.scaleLog().domain(dom).range([0, W]);
	var y = d3.scaleLog().domain(dom).range([H, 0]);
	var majors = decadesIn(dom);
	var minors = x.ticks().filter(function(v){ return !isDecade(v) && v > dom[0] && v < dom[1]; });

	var grid = g.append("g");
	grid.selectAll(".mx").data(minors).join("line")
		.attr("x1", x).attr("x2", x).attr("y1", 0).attr("y2", H);
	grid.selectAll(".my").data(minors).join("line")
		.attr("y1", y).attr("y2", y).attr("x1", 0).attr("x2", W);
	grid.selectAll("line").attr("stroke", "#c8c8c8").attr("stroke-width", 0.8).attr("stroke-dasharray", "1,2");
	var gmaj = g.append("g");
	gmaj.selectAll(".Mx").data(majors).join("line")
		.attr("x1", x).attr("x2", x).attr("y1", 0).attr("y2", H);
	gmaj.selectAll(".My").data(majors).join("line")
		.attr("y1", y).attr("y2", y).attr("x1", 0).attr("x2", W);
	gmaj.selectAll("line").attr("stroke", "#dedede").attr("stroke-width", 1);

	// points, dataset by dataset (later ones on top)
	datasets.forEach(function(name, k){
		var xs = xData[c][name], ys = yData[r][c][name];
		var pts = xs.map(function(v, i){ return [v, ys[i]]; }).filter(function(d){
			return d[0] >= dom[0] * 0.995 && d[0] <= dom[1] * 1.005 && d[1] >= dom[0] * 0.995 && d[1] <= dom[1] * 1.005;
		});
		g.append("g").selectAll("circle").data(pts).join("circle")
			.attr("cx", function(d){ return x(d[0]); })
			.attr("cy", function(d){ return y(d[1]); })
			.attr("r", 4.6)
			.attr("fill", dsColors[k])
			.attr("stroke", "#111").attr("stroke-width", 0.6);
	});

	// 1:1 line
	g.append("path")
		.attr("d", d3.line()(dom.map(function(v){ return [x(v), y(v)]; })))
		.attr("fill", "none").attr("stroke", "#ff1a1a").attr("stroke-width", 2.2)
		.attr("stroke-dasharray", "8,5");

	// ticks on all four sides
	var tickStyle = function(a){ a.select(".domain").remove(); a.selectAll(".tick line").attr("stroke", "#777"); };
	g.append("g").attr("transform", "translate(0," + H + ")")
		.call(d3.axisBottom(x).tickValues(majors).tickSize(-3).tickFormat("")).call(tickStyle);
	g.append("g").call(d3.axisTop(x).tickValues(majors).tickSize(-3).tickFormat("")).call(tickStyle);
	g.append("g").call(d3.axisLeft(y).tickValues(majors).tickSize(-3).tickFormat("")).call(tickStyle);
	g.append("g").attr("transform", "translate(" + W + ",0)")
		.call(d3.axisRight(y).tickValues(majors).tickSize(-3).tickFormat("")).call(tickStyle);

	g.append("rect").attr("width", W).attr("height", H)
		.attr("fill", "none").attr("stroke", "#8a8a8a").attr("stroke-width", 1);

	// tick labels
	majors.forEach(function(v){
		var e = "10^{" + Math.round(Math.log10(v)) + "}";
		rich(g.append("text").attr("x", x(v)).attr("y", H + 31)
			.attr("text-anchor", "middle").attr("fill", TXT), e, 17, 0.78);
		rich(g.append("text").attr("x", -7).attr("y", y(v) + 10)
			.attr("text-anchor", "end").attr("fill", TXT), e, 17, 0.78);
	});

	// RMSE block
	var ax = annoPos[r][c][0], ay = annoPos[r][c][1];
	g.append("text").attr("x", ax).attr("y", ay).attr("fill", "#111")
		.style("font-size", "22px").text("RMSE");
	rich(g.append("text").attr("x", ax).attr("y", ay + 34).attr("fill", "#111"),
		"abs: " + rmseAbs[r][c], 22);
	g.append("text").attr("x", ax).attr("y", ay + 63).attr("fill", "#111")
		.style("font-size", "22px").text("rel: " + rmseRel[r][c] + " %");
}

rowTop.forEach(function(_, r){ colLeft.forEach(function(_, c){ drawPanel(r, c); }); });

//----------------------------------------------------------------------------------------------------------------------------
//TITLES AND LABELS
//----------------------------------------------------------------------------------------------------------------------------
colTitles.forEach(function(t, c){
	rich(svg.append("text").attr("x", colLeft[c] + W / 2).attr("y", c === 3 ? 22 : 26)
		.attr("text-anchor", "middle").attr("font-weight", "bold").attr("fill", "#000"), t, 21);
});

xLabels.forEach(function(t, c){
	rich(svg.append("text").attr("x", colLeft[c] + W / 2 - (c === 3 ? 3 : 0)).attr("y", 800)
		.attr("text-anchor", "middle").attr("fill", TXT), t, 21);
});

var leftBase = [[73], [27, 78], [28, 78]], leftMid = [[139], [387, 405], [644, 634]];
var rightBase = [[1052], [1027, 1058], [1027, 1057]], rightMid = [[137], [385, 385], [632, 634]];
function yLabel(lines, bases, mids){
	lines.forEach(function(t, i){
		rich(svg.append("text")
			.attr("transform", "translate(" + bases[i] + "," + mids[i] + ") rotate(-90)")
			.attr("text-anchor", "middle").attr("fill", TXT), t, 24);
	});
}
rowLabelsLeft.forEach(function(l, r){ yLabel(l, leftBase[r], leftMid[r]); });
rowLabelsRight.forEach(function(l, r){ yLabel(l, rightBase[r], rightMid[r]); });

// separator between Rrs and QAA columns
svg.append("line").attr("x1", 990).attr("x2", 990).attr("y1", 0).attr("y2", 783)
	.attr("stroke", "#555").attr("stroke-width", 1).attr("stroke-dasharray", "12,6");

//----------------------------------------------------------------------------------------------------------------------------
//LEGEND
//----------------------------------------------------------------------------------------------------------------------------
var leg = svg.append("g").attr("transform", "translate(252,113)");
leg.append("rect").attr("width", 144).attr("height", 139)
	.attr("fill", "#fff").attr("stroke", "#8a8a8a");
var legItems = datasets.concat(["1:1"]);
legItems.forEach(function(name, i){
	var cy = 14.5 + i * 22.4;
	if(i < datasets.length){
		leg.append("circle").attr("cx", 26).attr("cy", cy).attr("r", 4.6)
			.attr("fill", dsColors[i]).attr("stroke", "#111").attr("stroke-width", 0.6);
	} else {
		leg.append("line").attr("x1", 4).attr("x2", 51).attr("y1", cy).attr("y2", cy)
			.attr("stroke", "#ff1a1a").attr("stroke-width", 2.2).attr("stroke-dasharray", "8,5");
	}
	leg.append("text").attr("x", 56).attr("y", cy + 6).attr("fill", "#000")
		.style("font-size", "16px").text(name);
});
</script>
</body>
</html>
